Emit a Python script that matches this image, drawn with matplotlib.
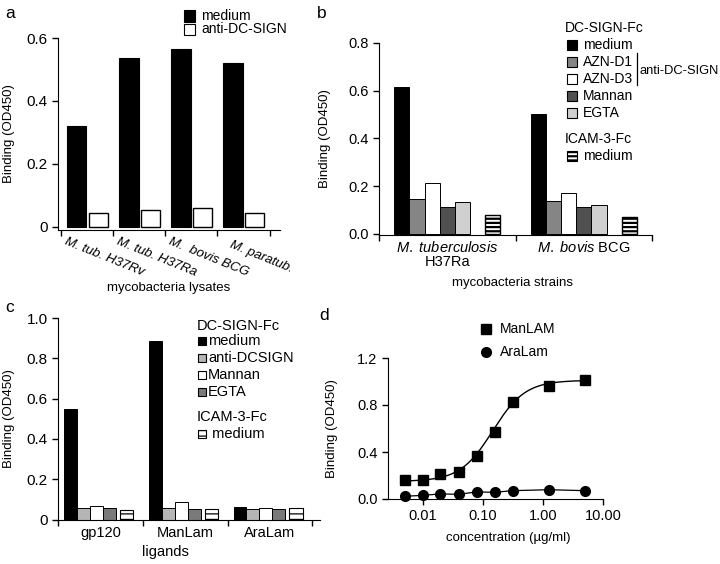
import numpy as np
import matplotlib
matplotlib.use("Agg")
import matplotlib.pyplot as plt
from matplotlib.patches import Rectangle
from matplotlib.lines import Line2D

plt.rcParams['font.family'] = ['Liberation Sans', 'DejaVu Sans']
plt.rcParams['mathtext.fontset'] = 'custom'
plt.rcParams['mathtext.it'] = 'Liberation Sans:italic'
plt.rcParams['mathtext.rm'] = 'Liberation Sans'
plt.rcParams['hatch.linewidth'] = 1.6

W, H = 720, 564

# panel a: lysates
a_strains = ["M. tub. H37Rv", "M. tub. H37Ra", "M.  bovis BCG", "M. paratub."]
a_medium = [0.32, 0.535, 0.565, 0.52]
a_anti = [0.045, 0.055, 0.06, 0.045]

# panel b: whole strains
b_strains = ["$\\it{M.\\ tuberculosis}$\nH37Ra", "$\\it{M.\\ bovis}$ BCG"]
b_conditions = ["medium", "AZN-D1", "AZN-D3", "Mannan", "EGTA"]
b_mtb = [0.615, 0.148, 0.215, 0.113, 0.135]
b_bcg = [0.503, 0.137, 0.17, 0.113, 0.12]
b_icam = [0.078, 0.072]
b_colors = ["black", "#858585", "white", "#505050", "#d0d0d0"]

# panel c: ligands
c_ligands = ["gp120", "ManLam", "AraLam"]
c_conditions = ["medium", "anti-DCSIGN", "Mannan", "EGTA"]
c_medium = [0.55, 0.885, 0.062]
c_anti = [0.055, 0.055, 0.05]
c_mannan = [0.065, 0.085, 0.055]
c_egta = [0.055, 0.05, 0.053]
c_icam = [0.045, 0.05, 0.057]
c_colors = ["black", "#b5b5b5", "white", "#7a7a7a"]

# panel d: dose response
d_conc = [0.0049, 0.0098, 0.0195, 0.039, 0.078, 0.156, 0.3125, 1.25, 5.0]
d_manlam = [0.159, 0.165, 0.216, 0.23, 0.363, 0.567, 0.826, 0.959, 1.016]
d_aralam = [0.023, 0.031, 0.043, 0.04, 0.06, 0.057, 0.071, 0.079, 0.071]
fit_bottom, fit_top, fit_ec50, fit_hill = 0.15, 1.01, 0.145, 1.6

fig = plt.figure(figsize=(7.2, 5.64), dpi=100)


def add_ax(left, right, top, bottom):
    return fig.add_axes([left / W, 1 - bottom / H, (right - left) / W, (bottom - top) / H])


def style(ax):
    for s in ['top', 'right']:
        ax.spines[s].set_visible(False)
    ax.tick_params(direction='out', length=4, width=1, labelsize=10.5)


def fx(x):
    return x / W


def fy(y):
    return 1 - y / H


def swatch(x, y, color, label, size=10, hatch=None, fs=10, gap=6):
    fig.add_artist(Rectangle((fx(x - size / 2), fy(y + size / 2)), size / W, size / H,
                             transform=fig.transFigure, facecolor=color,
                             edgecolor='black', lw=0.8, hatch=hatch))
    fig.text(fx(x + size / 2 + gap), fy(y), label, va='center', ha='left', fontsize=fs)


def ylabel_at(ax, xpix, left):
    ax.set_ylabel("Binding (OD450)", fontsize=9.5)
    w = ax.get_position().width * W
    ax.yaxis.set_label_coords((xpix - left) / w, 0.5)


# ---- panel a ----
ax = add_ax(58, 280, 38, 229.5)
style(ax)
xa = np.arange(len(a_strains))
ax.bar(xa - 0.2, a_medium, 0.37, color='black', edgecolor='black', lw=0.8)
ax.bar(xa + 0.21, a_anti, 0.36, color='white', edgecolor='black', lw=1.0)
ax.set_xlim(-0.56, 3.7)
ax.set_ylim(-0.008, 0.6)
ax.set_yticks([0, 0.2, 0.4, 0.6])
ax.set_yticklabels(["0", "0.2", "0.4", "0.6"])
ax.tick_params(axis='y', labelsize=11)
ax.set_xticks([-0.5, 0.5, 1.5, 2.5, 3.5])
ax.set_xticklabels([])
for i, name in enumerate(a_strains):
    ax.text(i + 0.33, -0.143, name, transform=ax.get_xaxis_transform(), rotation=-22,
            rotation_mode='anchor', ha='center', va='center', fontsize=9.5, style='italic')
fig.text(fx(169), fy(288), "mycobacteria lysates", ha='center', va='center', fontsize=9.5)
ylabel_at(ax, 15, 58)
swatch(190, 16, 'black', 'medium', size=11, fs=10)
swatch(190, 29, 'white', 'anti-DC-SIGN', size=11, fs=10)

# ---- panel b ----
ax = add_ax(379, 652, 43, 235)
style(ax)
slot = 1 / 9
for g, vals in enumerate([b_mtb, b_bcg]):
    for k, v in enumerate(vals):
        ax.bar(g - 0.5 + (k + 1.5) * slot, v, slot, color=b_colors[k], edgecolor='black', lw=0.7)
ax.bar(np.arange(2) - 0.5 + 7.5 * slot, b_icam, slot, color='white', edgecolor='black',
       lw=1.0, hatch='----')
ax.set_xlim(-0.5, 1.5)
ax.set_ylim(-0.005, 0.8)
ax.set_yticks([0, 0.2, 0.4, 0.6, 0.8])
ax.set_yticklabels(["0.0", "0.2", "0.4", "0.6", "0.8"])
ax.set_xticks([-0.5, 0.5, 1.5])
ax.set_xticklabels([])
for g, name in enumerate(b_strains):
    ax.text(g, -0.028, name, transform=ax.get_xaxis_transform(), ha='center', va='top',
            fontsize=10.5, linespacing=1.0)
fig.text(fx(513), fy(283), "mycobacteria strains", ha='center', va='center', fontsize=9.5)
ylabel_at(ax, 331, 379)
fig.text(fx(565), fy(28), "DC-SIGN-Fc", ha='left', va='center', fontsize=10)
for k, (lab, y) in enumerate(zip(b_conditions, [45, 62, 79, 96, 113])):
    swatch(572, y, b_colors[k], lab, size=10, fs=10)
fig.add_artist(Line2D([fx(637), fx(637)], [fy(53), fy(85)], transform=fig.transFigure,
                      color='black', lw=0.9))
fig.text(fx(639), fy(71), "anti-DC-SIGN", ha='left', va='center', fontsize=9.3)
fig.text(fx(565), fy(139), "ICAM-3-Fc", ha='left', va='center', fontsize=10)
swatch(572, 156, 'white', 'medium', size=10, hatch='----', fs=10)

# ---- panel c ----
ax = add_ax(58, 320, 318, 519.5)
style(ax)
cw = 13 / 85
xc = np.arange(len(c_ligands))
for k, vals in enumerate([c_medium, c_anti, c_mannan, c_egta]):
    ax.bar(xc - 0.5 + 0.07 + (k + 0.5) * cw, vals, cw, color=c_colors[k], edgecolor='black', lw=0.7)
with plt.rc_context({'hatch.linewidth': 0.9}):
    ax.bar(xc - 0.5 + 0.73 + 0.5 * 0.16, c_icam, 0.16, color='white', edgecolor='black',
           lw=0.8, hatch='---')
ax.set_xlim(-0.5, 2.59)
ax.set_ylim(0, 1.0)
ax.set_yticks([0, 0.2, 0.4, 0.6, 0.8, 1.0])
ax.set_yticklabels(["0", "0.2", "0.4", "0.6", "0.8", "1.0"])
ax.tick_params(axis='y', labelsize=11)
ax.set_xticks([-0.5, 0.5, 1.5, 2.5])
ax.set_xticklabels([])
for i, name in enumerate(c_ligands):
    ax.text(i, -0.068, name, transform=ax.get_xaxis_transform(), ha='center', va='center',
            fontsize=10.5)
fig.text(fx(165), fy(552), "ligands", ha='center', va='center', fontsize=10.5)
ylabel_at(ax, 15, 58)
fig.text(fx(197), fy(326), "DC-SIGN-Fc", ha='left', va='center', fontsize=10.5)
for k, (lab, y) in enumerate(zip(c_conditions, [341, 358, 375, 392])):
    swatch(202, y, c_colors[k], lab, size=8, fs=10.5, gap=2)
fig.text(fx(197), fy(417), "ICAM-3-Fc", ha='left', va='center', fontsize=10.5)
with plt.rc_context({'hatch.linewidth': 0.9}):
    swatch(202, 434, 'white', ' medium', size=8, hatch='---', fs=10.5, gap=2)

# ---- panel d ----
ax = add_ax(388, 603, 358, 499)
style(ax)
ax.set_xscale('log')
xs = np.logspace(np.log10(d_conc[0]), np.log10(d_conc[-1]), 200)
ax.plot(xs, fit_bottom + (fit_top - fit_bottom) / (1 + (fit_ec50 / xs) ** fit_hill),
        color='black', lw=1.0)
ax.plot(d_conc, d_manlam, 's', color='black', ms=6.5, clip_on=False)
ax.plot(d_conc, d_aralam, '-', color='black', lw=0.9)
ax.plot(d_conc, d_aralam, 'o', color='black', ms=7, clip_on=False)
ax.set_xlim(0.0026, 10)
ax.set_ylim(0, 1.2)
ax.set_yticks([0, 0.4, 0.8, 1.2])
ax.set_yticklabels(["0.0", "0.4", "0.8", "1.2"])
ax.set_xticks([0.01, 0.1, 1, 10])
ax.set_xticklabels(["0.01", "0.10", "1.00", "10.00"])
ax.minorticks_off()
fig.text(fx(508), fy(538), "concentration (\u00b5g/ml)", ha='center', va='center', fontsize=9.5)
ylabel_at(ax, 338, 388)
fig.add_artist(Line2D([fx(486)], [fy(329)], marker='s', ms=6.5, color='black',
                      transform=fig.transFigure))
fig.add_artist(Line2D([fx(486)], [fy(352)], marker='o', ms=7, color='black',
                      transform=fig.transFigure))
fig.text(fx(500), fy(329), "ManLAM", ha='left', va='center', fontsize=10)
fig.text(fx(500), fy(352), "AraLam", ha='left', va='center', fontsize=10)

# panel letters
for lab, x, y in [("a", 10, 13), ("b", 322, 13), ("c", 10, 307), ("d", 324, 315)]:
    fig.text(fx(x), fy(y), lab, ha='center', va='center', fontsize=12.5)

fig.savefig("out.png", dpi=100)
